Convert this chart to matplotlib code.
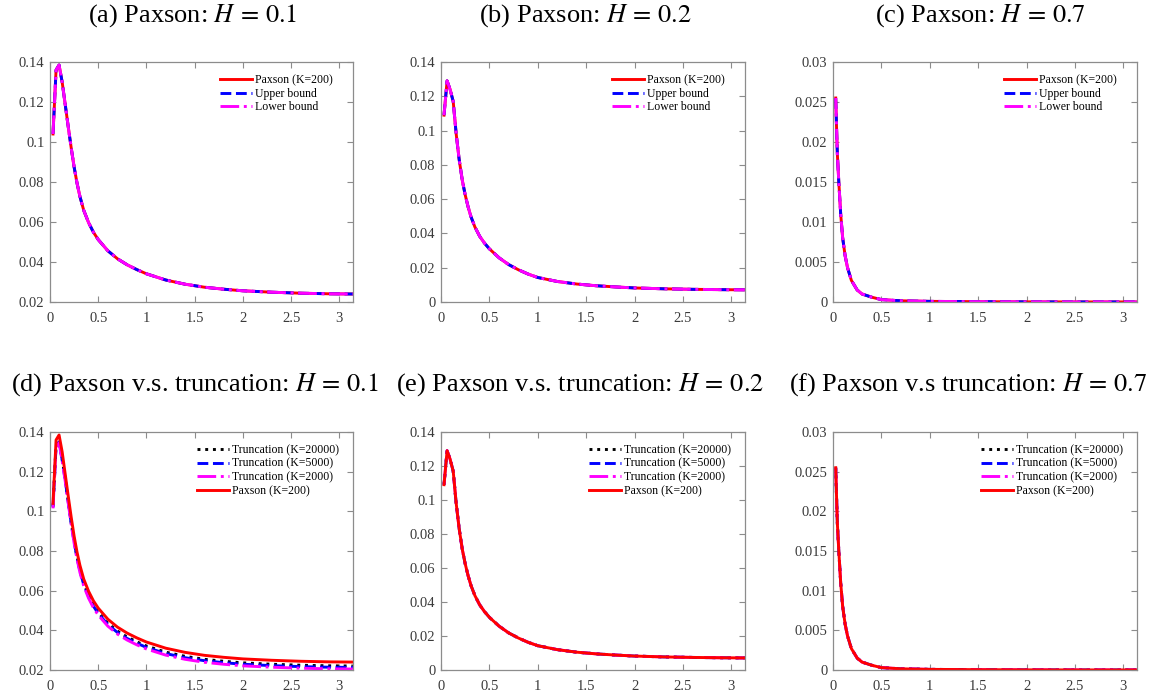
import matplotlib
matplotlib.use("Agg")
import matplotlib.pyplot as plt

plt.rcParams["font.family"] = ["Liberation Serif", "DejaVu Serif"]
plt.rcParams["mathtext.fontset"] = "stix"

# Frequency grid (radians) for the H=0.1 and H=0.2 spectra
freq = [0.031, 0.063, 0.094, 0.126, 0.157, 0.188, 0.22, 0.25, 0.28, 0.31,
        0.35, 0.4, 0.45, 0.5, 0.6, 0.7, 0.8, 0.9, 1.0, 1.2,
        1.4, 1.6, 1.8, 2.0, 2.3, 2.6, 2.9, 3.14]

# Paxson approximation, H = 0.1
paxson_h01 = [0.104, 0.136, 0.1385, 0.130, 0.119, 0.108, 0.097, 0.0875, 0.0795, 0.0728,
              0.0658, 0.0597, 0.0549, 0.0512, 0.0456, 0.0416, 0.0386, 0.0362, 0.0341, 0.0310,
              0.0289, 0.0274, 0.0264, 0.0256, 0.0249, 0.0244, 0.0241, 0.0240]
upper_h01 = paxson_h01
lower_h01 = paxson_h01

# Truncated series, H = 0.1
trunc20000_h01 = [0.1025, 0.1335, 0.1355, 0.1265, 0.1165, 0.1055, 0.0945, 0.0852, 0.0773, 0.0706,
                  0.0637, 0.0576, 0.0528, 0.0491, 0.0435, 0.0396, 0.0366, 0.0342, 0.0321, 0.0290,
                  0.0269, 0.0254, 0.0244, 0.0236, 0.0229, 0.0224, 0.0221, 0.0220]
trunc5000_h01 = [0.102, 0.133, 0.135, 0.126, 0.116, 0.105, 0.094, 0.0846, 0.0767, 0.0700,
                 0.0631, 0.0570, 0.0522, 0.0485, 0.0429, 0.0389, 0.0359, 0.0335, 0.0314, 0.0283,
                 0.0262, 0.0247, 0.0237, 0.0229, 0.0222, 0.0217, 0.0214, 0.0213]
trunc2000_h01 = [0.1015, 0.1325, 0.1345, 0.1255, 0.1155, 0.1045, 0.0935, 0.0840, 0.0760, 0.0692,
                 0.0623, 0.0562, 0.0514, 0.0477, 0.0421, 0.0381, 0.0351, 0.0327, 0.0306, 0.0275,
                 0.0254, 0.0239, 0.0229, 0.0221, 0.0214, 0.0209, 0.0206, 0.0205]

# Paxson approximation, H = 0.2
paxson_h02 = [0.109, 0.129, 0.124, 0.117, 0.098, 0.083, 0.071, 0.0625, 0.0555, 0.0497,
              0.0438, 0.0383, 0.0343, 0.0310, 0.0258, 0.0218, 0.0188, 0.0163, 0.0143, 0.0120,
              0.0105, 0.0095, 0.0088, 0.0082, 0.0077, 0.0074, 0.0072, 0.0071]

# Paxson approximation, H = 0.7 (finer grid near the origin)
freq_h07 = [0.028, 0.035, 0.045, 0.06, 0.08, 0.1, 0.125, 0.15, 0.19, 0.25,
            0.3, 0.4, 0.5, 0.7, 1.0, 1.5, 2.0, 2.5, 3.14]
paxson_h07 = [0.0255, 0.0225, 0.0185, 0.015, 0.0109, 0.0080, 0.0058, 0.0043, 0.0027, 0.0015,
              0.0010, 0.0006, 0.0003, 0.00015, 0.00008, 0.00004, 0.00002, 0.00001, 0.00001]

x_ticks = [0, 0.5, 1, 1.5, 2, 2.5, 3]
x_ticklabels = ["0", "0.5", "1", "1.5", "2", "2.5", "3"]
y_ticks_a = [0.02, 0.04, 0.06, 0.08, 0.10, 0.12, 0.14]
y_labels_a = ["0.02", "0.04", "0.06", "0.08", "0.1", "0.12", "0.14"]
y_ticks_b = [0, 0.02, 0.04, 0.06, 0.08, 0.10, 0.12, 0.14]
y_labels_b = ["0", "0.02", "0.04", "0.06", "0.08", "0.1", "0.12", "0.14"]
y_ticks_c = [0, 0.005, 0.01, 0.015, 0.02, 0.025, 0.03]
y_labels_c = ["0", "0.005", "0.01", "0.015", "0.02", "0.025", "0.03"]

titles_top = [r"(a) Paxson: $H\,=\,0.1$", r"(b) Paxson: $H\,=\,0.2$", r"(c) Paxson: $H\,=\,0.7$"]
titles_bot = [r"(d) Paxson v.s. truncation: $H\,=\,0.1$",
              r"(e) Paxson v.s. truncation: $H\,=\,0.2$",
              r"(f) Paxson v.s truncation: $H\,=\,0.7$"]

W, H = 1167, 694
fig = plt.figure(figsize=(W / 100, H / 100), dpi=100)

SPINE = "#8c8c8c"
TXT = "#3a3a3a"
LW = 2.1


def add_axes(left, right, top, bottom):
    return fig.add_axes([left / W, 1 - bottom / H, (right - left) / W, (bottom - top) / H])


def style(ax, yt, yl, ylim):
    ax.set_xlim(0, 3.1416)
    ax.set_ylim(*ylim)
    ax.set_xticks(x_ticks)
    ax.set_xticklabels(x_ticklabels)
    ax.set_yticks(yt)
    ax.set_yticklabels(yl)
    ax.tick_params(direction="in", length=4, width=0.8, colors=SPINE,
                   labelcolor=TXT, labelsize=10.5, top=True, right=True)
    ax.tick_params(axis="x", pad=7)
    ax.tick_params(axis="y", pad=4)
    for s in ax.spines.values():
        s.set_color(SPINE)
        s.set_linewidth(0.9)


def legend(ax, anchor):
    ax.legend(loc="upper right", bbox_to_anchor=anchor, frameon=False, fontsize=8.5,
              handlelength=2.7, handletextpad=0.3, labelspacing=0.15, borderaxespad=0)


rects_top = [(50, 353, 62, 302), (441, 745, 62, 302), (833, 1137, 62, 302)]
rects_bot = [(50, 353, 432, 670), (441, 745, 432, 670), (833, 1137, 432, 670)]

top_data = [(freq, paxson_h01, upper_h01, lower_h01, y_ticks_a, y_labels_a, (0.02, 0.14)),
            (freq, paxson_h02, paxson_h02, paxson_h02, y_ticks_b, y_labels_b, (0, 0.14)),
            (freq_h07, paxson_h07, paxson_h07, paxson_h07, y_ticks_c, y_labels_c, (0, 0.03))]

for rect, (xs, pax, up, lo, yt, yl, ylim) in zip(rects_top, top_data):
    ax = add_axes(*rect)
    ax.plot(xs, pax, "-", color="red", lw=LW, label="Paxson (K=200)")
    ax.plot(xs, up, "--", color="blue", lw=LW, label="Upper bound")
    ax.plot(xs, lo, "-.", color="magenta", lw=LW, label="Lower bound")
    style(ax, yt, yl, ylim)
    legend(ax, (0.95, 0.97))

bot_data = [(freq, trunc20000_h01, trunc5000_h01, trunc2000_h01, paxson_h01, y_ticks_a, y_labels_a, (0.02, 0.14)),
            (freq, paxson_h02, paxson_h02, paxson_h02, paxson_h02, y_ticks_b, y_labels_b, (0, 0.14)),
            (freq_h07, paxson_h07, paxson_h07, paxson_h07, paxson_h07, y_ticks_c, y_labels_c, (0, 0.03))]

for rect, (xs, t1, t2, t3, pax, yt, yl, ylim) in zip(rects_bot, bot_data):
    ax = add_axes(*rect)
    ax.plot(xs, t1, ":", color="black", lw=LW, label="Truncation (K=20000)")
    ax.plot(xs, t2, "--", color="blue", lw=LW, label="Truncation (K=5000)")
    ax.plot(xs, t3, "-.", color="magenta", lw=LW, label="Truncation (K=2000)")
    ax.plot(xs, pax, "-", color="red", lw=LW, label="Paxson (K=200)")
    style(ax, yt, yl, ylim)
    legend(ax, (0.97, 0.97))

for cx, t in zip([193, 585, 980], titles_top):
    fig.text(cx / W, 1 - 16 / H, t, ha="center", va="center", fontsize=19, color="black")
for cx, t in zip([195, 580, 968], titles_bot):
    fig.text(cx / W, 1 - 385 / H, t, ha="center", va="center", fontsize=19, color="black")

fig.savefig("out.png", dpi=100, facecolor="white")
